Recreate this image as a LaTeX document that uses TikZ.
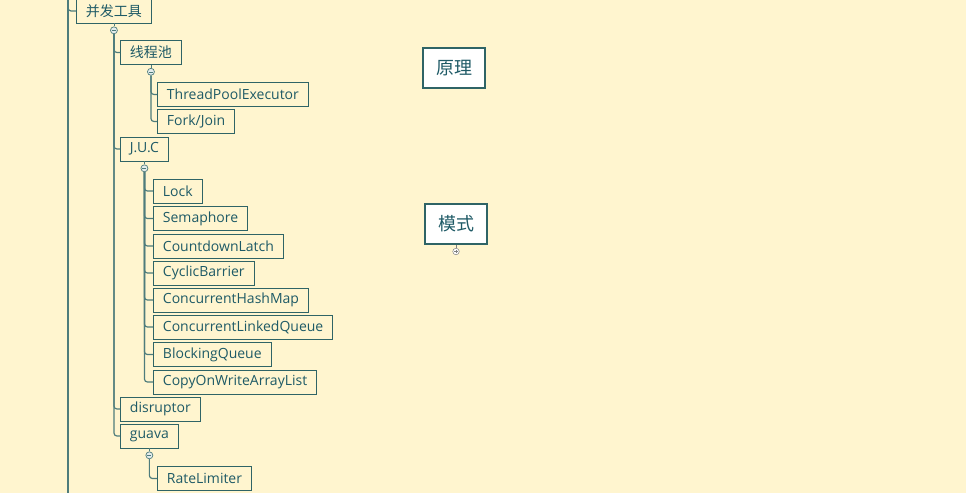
\documentclass[tikz,border=0pt]{standalone}
\usepackage{fontspec}
\setmainfont{Open Sans}
\newfontfamily\cjk{Noto Sans CJK SC}
\usepackage{xcolor}
\usetikzlibrary{positioning}
\definecolor{paper}{HTML}{FFF5CF}
\definecolor{frame}{HTML}{2F6466}
\definecolor{wire}{HTML}{4E7C7C}
\definecolor{ink}{HTML}{1E5A66}
\definecolor{foldfill}{HTML}{E4ECEC}
\tikzset{
    topic/.style={
        draw=frame,
        fill=paper,
        anchor=west,
        line width=0.9pt,
        minimum height=24pt,
        inner xsep=9.5pt,
        inner ysep=0pt,
        text=ink,
        font=\fontsize{14pt}{16pt}\selectfont
    },
    mainbox/.style={
        draw=frame,
        fill=white,
        line width=2pt,
        minimum width=62pt,
        minimum height=40pt,
        text=ink,
        font=\cjk\fontsize{18pt}{20pt}\selectfont
    },
    fold/.style={
        circle,
        draw=wire,
        fill=foldfill,
        line width=0.7pt,
        minimum size=7pt,
        inner sep=0pt,
        path picture={\draw[wire, line width=0.6pt]
            ([xshift=1.5pt]path picture bounding box.west) --
            ([xshift=-1.5pt]path picture bounding box.east);}
    },
    unfold/.style={
        circle,
        draw=gray,
        fill=white,
        line width=0.5pt,
        minimum size=6.5pt,
        inner sep=0pt,
        path picture={\draw[gray, line width=0.5pt]
            ([xshift=1.4pt]path picture bounding box.west) --
            ([xshift=-1.4pt]path picture bounding box.east)
            ([yshift=1.4pt]path picture bounding box.south) --
            ([yshift=-1.4pt]path picture bounding box.north);}
    },
    branch/.style={
        draw=wire,
        line width=1.2pt,
        rounded corners=3pt
    }
}

\begin{document}
\begin{tikzpicture}[x=1pt, y=-1pt]
    \fill[paper] (0,0) rectangle (966,493);
    \useasboundingbox (0,0) rectangle (966,493);

    % Trunk
    \coordinate (top) at (68,0);
    \coordinate (bottom) at (68,493);
    \draw[branch] (top) -- (bottom);

    % Topics - level 1
    \node[topic, font=\cjk\fontsize{14pt}{16pt}\selectfont] (bf) at (76,11) {并发工具};
    \node[fold, below=3pt of bf] (f1) {};

    % Topics - level 2
    \node[topic, font=\cjk\fontsize{14pt}{16pt}\selectfont] (pool) at (120,52.5) {线程池};
    \node[topic] (juc) at (120,149) {J.U.C};
    \node[topic] (dis) at (120,409) {disruptor};
    \node[topic] (guava) at (120,436) {guava};
    \node[fold, below=3pt of pool] (f2) {};
    \node[fold, below=3pt of juc] (f3) {};
    \node[fold, below=3pt of guava] (f4) {};

    % Topics - level 3
    \node[topic] (tpe) at (157,94.5) {ThreadPoolExecutor};
    \node[topic] (fj) at (157,121.5) {Fork/Join};
    \node[topic] (lock) at (153,191) {Lock};
    \node[topic] (sem) at (153,218.5) {Semaphore};
    \node[topic] (cdl) at (153,246) {CountdownLatch};
    \node[topic] (cb) at (153,273) {CyclicBarrier};
    \node[topic] (chm) at (153,300) {ConcurrentHashMap};
    \node[topic] (clq) at (153,327) {ConcurrentLinkedQueue};
    \node[topic] (bq) at (153,354.5) {BlockingQueue};
    \node[topic] (cow) at (153,382) {CopyOnWriteArrayList};
    \node[topic] (rl) at (157,478.5) {RateLimiter};

    % Main topics
    \node[mainbox] (yl) at (454,68) {原理};
    \node[mainbox] (ms) at (456,224) {模式};
    \node[unfold, below=3pt of ms] (f5) {};

    % Edges
    \draw[branch] (top) |- (bf.west);
    \draw[wire, line width=0.8pt] (bf.south) -- (f1.north);
    \draw[wire, line width=0.8pt] (pool.south) -- (f2.north);
    \draw[wire, line width=0.8pt] (juc.south) -- (f3.north);
    \draw[wire, line width=0.8pt] (guava.south) -- (f4.north);
    \draw[gray, line width=0.5pt] (ms.south) -- (f5.north);
    \foreach \c in {pool, juc, dis, guava}
        \draw[branch] (f1.south) |- (\c.west);
    \foreach \c in {tpe, fj}
        \draw[branch] (f2.south) |- (\c.west);
    \foreach \c in {lock, sem, cdl, cb, chm, clq, bq, cow}
        \draw[branch] (f3.south) |- (\c.west);
    \draw[branch] (f4.south) |- (rl.west);
\end{tikzpicture}
\end{document}
